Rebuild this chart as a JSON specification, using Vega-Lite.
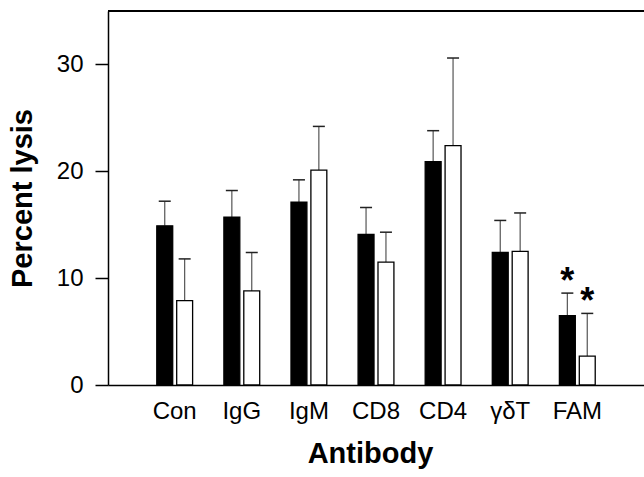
{
  "$schema": "https://vega.github.io/schema/vega-lite/v6.json",
  "width": 536,
  "height": 374,
  "autosize": {"type": "none"},
  "padding": {"left": 108, "top": 11, "right": 0, "bottom": 92},
  "background": "white",
  "config": {"view": {"stroke": null}, "font": "Liberation Sans"},
  "data": {
    "values": [
      {"antibody": "Con", "group": "A", "value": 14.9, "upper": 17.2, "star": ""},
      {"antibody": "Con", "group": "B", "value": 7.9, "upper": 11.8, "star": ""},
      {"antibody": "IgG", "group": "A", "value": 15.7, "upper": 18.2, "star": ""},
      {"antibody": "IgG", "group": "B", "value": 8.8, "upper": 12.4, "star": ""},
      {"antibody": "IgM", "group": "A", "value": 17.1, "upper": 19.2, "star": ""},
      {"antibody": "IgM", "group": "B", "value": 20.1, "upper": 24.2, "star": ""},
      {"antibody": "CD8", "group": "A", "value": 14.1, "upper": 16.6, "star": ""},
      {"antibody": "CD8", "group": "B", "value": 11.5, "upper": 14.3, "star": ""},
      {"antibody": "CD4", "group": "A", "value": 20.9, "upper": 23.8, "star": ""},
      {"antibody": "CD4", "group": "B", "value": 22.4, "upper": 30.6, "star": ""},
      {"antibody": "γδT", "group": "A", "value": 12.4, "upper": 15.4, "star": ""},
      {"antibody": "γδT", "group": "B", "value": 12.5, "upper": 16.1, "star": ""},
      {"antibody": "FAM", "group": "A", "value": 6.5, "upper": 8.6, "star": "*"},
      {"antibody": "FAM", "group": "B", "value": 2.7, "upper": 6.7, "star": "*"}
    ]
  },
  "layer": [
    {
      "mark": {"type": "rule", "color": "#000", "strokeWidth": 1.5},
      "encoding": {"y": {"datum": 35, "type": "quantitative", "scale": {"domain": [0, 35], "nice": false}}}
    },
    {
      "mark": {"type": "rule", "color": "#555", "strokeWidth": 1.2},
      "encoding": {
        "x": {"field": "antibody", "type": "nominal", "sort": null, "scale": {"paddingInner": 0.466, "paddingOuter": 0.727}},
        "xOffset": {"field": "group", "type": "nominal", "scale": {"paddingInner": 0.2}},
        "y": {"field": "value", "type": "quantitative"},
        "y2": {"field": "upper"}
      }
    },
    {
      "mark": {"type": "tick", "color": "#222", "thickness": 1.5, "size": 12, "opacity": 1},
      "encoding": {
        "x": {"field": "antibody", "type": "nominal", "sort": null},
        "xOffset": {"field": "group", "type": "nominal"},
        "y": {"field": "upper", "type": "quantitative"}
      }
    },
    {
      "mark": {"type": "bar", "stroke": "#000", "strokeWidth": 1.3},
      "encoding": {
        "x": {
          "field": "antibody", "type": "nominal", "sort": null,
          "axis": {
            "title": "Antibody", "titleFontSize": 29, "titleFontWeight": "bold", "titleColor": "#000",
            "titlePadding": 16, "titleX": 262,
            "labelAngle": 0, "labelAlign": "center", "labelFontSize": 24, "labelColor": "#000", "labelPadding": 26,
            "ticks": false, "domainColor": "#000", "domainWidth": 1.5
          }
        },
        "xOffset": {"field": "group", "type": "nominal"},
        "y": {
          "field": "value", "type": "quantitative",
          "axis": {
            "title": "Percent lysis", "titleFontSize": 29, "titleFontWeight": "bold", "titleColor": "#000",
            "titlePadding": 19,
            "values": [0, 10, 20, 30], "grid": false,
            "labelFontSize": 24, "labelColor": "#000", "labelPadding": 12,
            "tickSize": 13, "tickColor": "#000", "tickWidth": 1.5,
            "domainColor": "#000", "domainWidth": 1.5
          }
        },
        "fill": {"field": "group", "type": "nominal", "scale": {"domain": ["A", "B"], "range": ["#000000", "#ffffff"]}, "legend": null}
      }
    },
    {
      "mark": {"type": "text", "fontSize": 36, "fontWeight": "bold", "color": "#000", "baseline": "alphabetic", "dy": 0},
      "encoding": {
        "x": {"field": "antibody", "type": "nominal", "sort": null},
        "xOffset": {"field": "group", "type": "nominal"},
        "y": {"field": "upper", "type": "quantitative"},
        "text": {"field": "star"}
      }
    }
  ]
}
